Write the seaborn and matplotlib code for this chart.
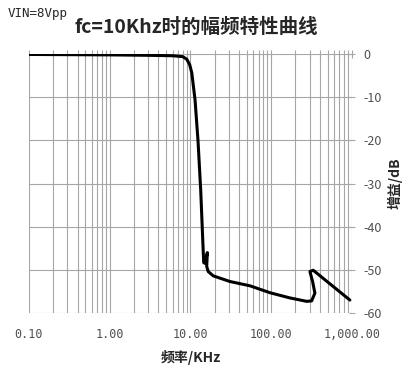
import matplotlib
matplotlib.use("Agg")
import matplotlib.pyplot as plt
import matplotlib.ticker as mticker
import seaborn as sns

# amplitude-frequency response (x in kHz, y in dB)
freq_khz = [0.1, 1, 3, 6, 8, 9, 9.8, 10.4, 11.4, 12.4, 13.4, 14.2, 14.6, 15.1,
            16.2, 15.9, 16.6, 19.2, 30.8, 54.6, 96.6, 170, 275, 317, 348, 326,
            302, 332, 944]
gain_db = [-0.1, -0.2, -0.3, -0.4, -0.6, -1.2, -2.5, -4.4, -10.6, -20, -31.5,
           -43, -48.3, -48.5, -46, -49.2, -50.4, -51.4, -52.7, -53.7, -55.3,
           -56.5, -57.3, -57.2, -55.4, -52.7, -50.4, -50.1, -57]

x_ticks = [0.1, 1, 10, 100, 1000]
x_tick_labels = ["0.10", "1.00", "10.00", "100.00", "1,000.00"]
y_ticks = [0, -10, -20, -30, -40, -50, -60]

sns.set_style("white")
plt.rcParams['font.family'] = ['Noto Sans CJK SC', 'DejaVu Sans']
plt.rcParams['axes.unicode_minus'] = False

fig = plt.figure(figsize=(4.14, 3.72), dpi=100)
ax = fig.add_axes([0.070, 0.1586, 0.780, 0.6962])

sns.lineplot(x=freq_khz, y=gain_db, sort=False, estimator=None,
             color='black', linewidth=2.2, ax=ax)

ax.set_xscale('log')
ax.set_xlim(0.1, 1000)
ax.set_ylim(-60, 0)

ax.xaxis.set_major_locator(mticker.FixedLocator(x_ticks))
ax.xaxis.set_major_formatter(mticker.FixedFormatter(x_tick_labels))
ax.xaxis.set_minor_locator(mticker.LogLocator(base=10, subs=range(2, 10)))
ax.xaxis.set_minor_formatter(mticker.NullFormatter())
ax.set_yticks(y_ticks)

ax.grid(which='both', axis='x', color='#a6a6a6', linewidth=0.8)
ax.grid(which='major', axis='y', color='#a6a6a6', linewidth=0.8)

for s in ax.spines.values():
    s.set_visible(False)

ax.tick_params(axis='x', which='both', top=True, bottom=False, labeltop=False,
               labelbottom=True, direction='inout', length=6, color='#a6a6a6',
               width=0.8, pad=8)
for lab in ax.get_xticklabels():
    lab.set_fontfamily('DejaVu Sans Mono')
    lab.set_fontsize(8.5)
    lab.set_color('#505050')

ax.tick_params(axis='y', left=False, right=True, labelleft=False, labelright=True,
               direction='inout', length=5, color='#a6a6a6', width=0.8,
               pad=6, labelsize=9, labelcolor='#505050')

ax.set_xlabel('频率/KHz', fontsize=10, fontweight='bold', labelpad=6)
ax.yaxis.set_label_position('right')
ax.set_ylabel('增益/dB', fontsize=10, fontweight='bold', labelpad=4)

fig.text(0.473, 0.927, 'fc=10Khz时的幅频特性曲线', fontsize=14, fontweight='bold',
         ha='center', va='center')
fig.text(0.019, 0.965, 'VIN=8Vpp', fontsize=9, family='DejaVu Sans Mono',
         ha='left', va='center')

fig.savefig('out.png', dpi=100)
